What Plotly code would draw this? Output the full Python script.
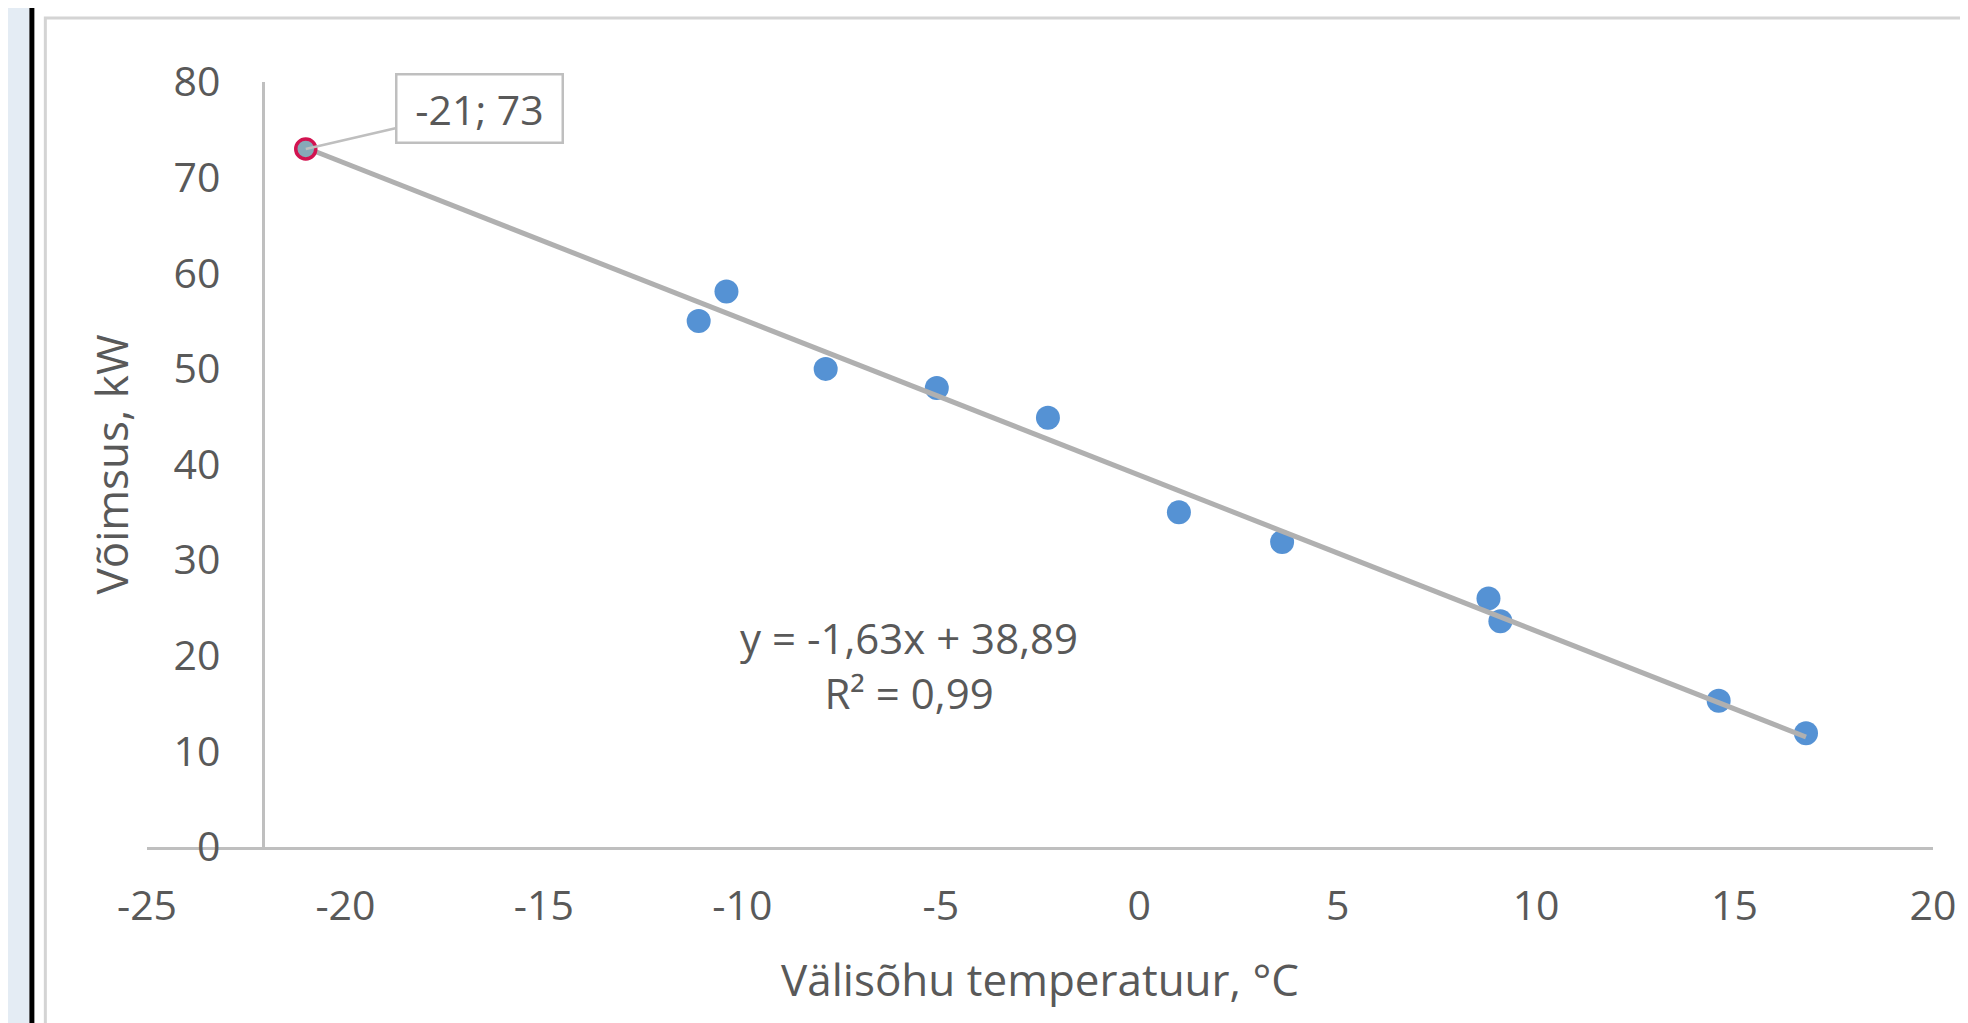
import plotly.graph_objects as go

# ---- data ----
temp_c = [-11.1, -10.4, -7.9, -5.1, -2.3, 1.0, 3.6, 8.8, 9.1, 14.6, 16.8]
power_kw = [55.0, 58.1, 50.0, 48.0, 44.9, 35.0, 31.9, 26.0, 23.6, 15.3, 11.9]
highlight_x = [-21]
highlight_y = [73]
trend_slope = -1.63
trend_intercept = 38.89
eq_text = "y = -1,63x + 38,89<br>R² = 0,99"
label_text = "-21; 73"

x_tickvals = [-25, -20, -15, -10, -5, 0, 5, 10, 15, 20]
x_ticktext = ["-25", "-20", "-15", "-10", "-5", "0", "5", "10", "15", "20"]
y_tickvals = [0, 10, 20, 30, 40, 50, 60, 70, 80]
y_ticktext = ["0", "10", "20", "30", "40", "50", "60", "70", "80"]

x_title = "Välisõhu temperatuur, °C"
y_title = "Võimsus, kW"

# ---- layout geometry (page pixels) ----
OFF = 8                      # default body margin of the html page
W, H = 1968 - OFF, 1023 - OFF
L, R, T, B = 147, 1939, 82, 847   # plot area in page pixels
TXT = "#595959"
FONT = "Open Sans"
FS = 41
FS_T = 44

def px_x(p):
    return (p - L) / (R - L)

def px_y(p):
    return (B - p) / (B - T)

all_x = highlight_x + temp_c
tx = [min(all_x), max(all_x)]
ty = [trend_slope * v + trend_intercept for v in tx]

fig = go.Figure()
fig.add_trace(go.Scatter(
    x=temp_c, y=power_kw, mode="markers",
    marker=dict(size=24, color="#5592D4", line=dict(width=0)),
    showlegend=False, hoverinfo="x+y"))
fig.add_trace(go.Scatter(
    x=tx, y=ty, mode="lines",
    line=dict(color="#B0B0B0", width=5),
    showlegend=False, hoverinfo="skip"))
fig.add_trace(go.Scatter(
    x=highlight_x, y=highlight_y, mode="markers",
    marker=dict(size=20, color="#86A9B8", line=dict(width=3.5, color="#D21350")),
    showlegend=False, hoverinfo="x+y"))

shapes = [
    dict(type="rect", xref="paper", yref="paper", layer="below",
         x0=px_x(0), x1=px_x(29), y0=px_y(1030), y1=px_y(0),
         fillcolor="#E4ECF4", line=dict(width=0)),
    dict(type="rect", xref="paper", yref="paper", layer="below",
         x0=px_x(29), x1=px_x(34), y0=px_y(1030), y1=px_y(0),
         fillcolor="#000000", line=dict(width=0)),
    dict(type="rect", xref="paper", yref="paper", layer="below",
         x0=px_x(45), x1=px_x(1990), y0=px_y(1040), y1=px_y(18),
         fillcolor="rgba(0,0,0,0)", line=dict(color="#D4D4D4", width=3)),
]

fig.update_layout(
    width=W, height=H,
    margin=dict(l=L - OFF, r=1968 - R, t=T - OFF, b=1023 - B, pad=0),
    paper_bgcolor="white", plot_bgcolor="white",
    font=dict(family=FONT, size=FS, color=TXT),
    shapes=shapes,
    showlegend=False,
    xaxis=dict(
        range=[-25, 20], domain=[0, 1], anchor="y",
        tickvals=x_tickvals, ticktext=x_ticktext,
        showgrid=False, zeroline=False,
        showline=True, linecolor="#BFBFBF", linewidth=3,
        ticks="", ticklabelstandoff=21,
        tickfont=dict(family=FONT, size=FS, color=TXT),
        title=dict(text=x_title, standoff=34,
                   font=dict(family=FONT, size=FS_T, color=TXT)),
    ),
    yaxis=dict(
        range=[0, 80], anchor="free", position=px_x(263),
        tickvals=y_tickvals, ticktext=y_ticktext,
        showgrid=False, zeroline=False,
        showline=True, linecolor="#BFBFBF", linewidth=3,
        ticks="", ticklabelstandoff=33,
        tickfont=dict(family=FONT, size=FS, color=TXT),
        title=dict(text=y_title, standoff=30,
                   font=dict(family=FONT, size=FS_T, color=TXT)),
    ),
    annotations=[
        dict(x=-5.8, y=19.0, xref="x", yref="y", text=eq_text,
             showarrow=False, font=dict(family=FONT, size=FS + 1, color=TXT),
             align="center"),
        dict(x=highlight_x[0], y=highlight_y[0], xref="x", yref="y",
             text=label_text, showarrow=True, arrowhead=0, arrowwidth=2.5,
             arrowcolor="#BFBFBF", ax=174, ay=-40,
             font=dict(family=FONT, size=FS, color=TXT),
             bgcolor="white", bordercolor="#BFBFBF", borderwidth=2.5,
             width=160, height=62, borderpad=2),
    ],
)

fig.write_html("out.html")
